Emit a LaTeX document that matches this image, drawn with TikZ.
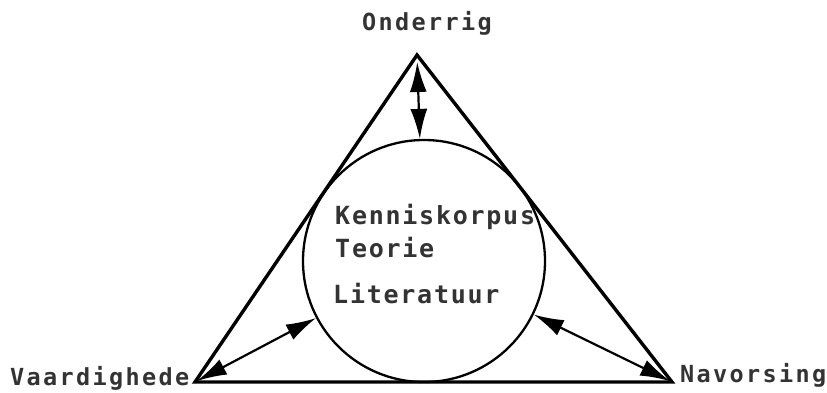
\documentclass[tikz,border=0pt]{standalone}
\usepackage{fontspec}
\usetikzlibrary{arrows.meta}
\newfontfamily\outerfont{DejaVu Sans Mono Bold}[LetterSpace=10]
\newfontfamily\innerfont{DejaVu Sans Mono Bold}[LetterSpace=7]
\definecolor{txt}{HTML}{333333}
\tikzset{
  outerlabel/.style={anchor=base west, inner sep=0pt, text=txt, font=\outerfont\fontsize{23.5}{28}\selectfont},
  innerlabel/.style={anchor=base west, inner sep=0pt, text=txt, font=\innerfont\fontsize{25}{30}\selectfont},
  frame/.style={draw=black, line width=3.4pt, line join=miter},
  twoway/.style={line width=2.2pt, {Latex[length=30pt,width=17pt]}-{Latex[length=30pt,width=17pt]}}
}
\begin{document}
\begin{tikzpicture}[x=1pt,y=-1pt]
\useasboundingbox (0,0) rectangle (827,393);
\fill[white] (0,0) rectangle (827,393);
\coordinate (A) at (417,55);
\coordinate (B) at (195,382);
\coordinate (C) at (672,382);
\draw[frame] (A) -- (B) -- (C) -- cycle;
\node[circle, draw=black, line width=2.3pt, minimum size=242pt, inner sep=0pt] (K) at (424,261) {};
\draw[twoway, shorten <=7pt] (A) -- (K);
\draw[twoway, shorten <=2pt] (B) -- (K);
\draw[twoway, shorten <=2pt] (C) -- (K);
\node[outerlabel] (on) at (362,31) {Onderrig};
\node[outerlabel] (va) at (10,385) {Vaardighede};
\node[outerlabel] (na) at (680,382) {Navorsing};
\node[innerlabel] (ke) at (335,224) {Kenniskorpus};
\node[innerlabel] (te) at (335,257) {Teorie};
\node[innerlabel] (li) at (333,303) {Literatuur};
\end{tikzpicture}
\end{document}
